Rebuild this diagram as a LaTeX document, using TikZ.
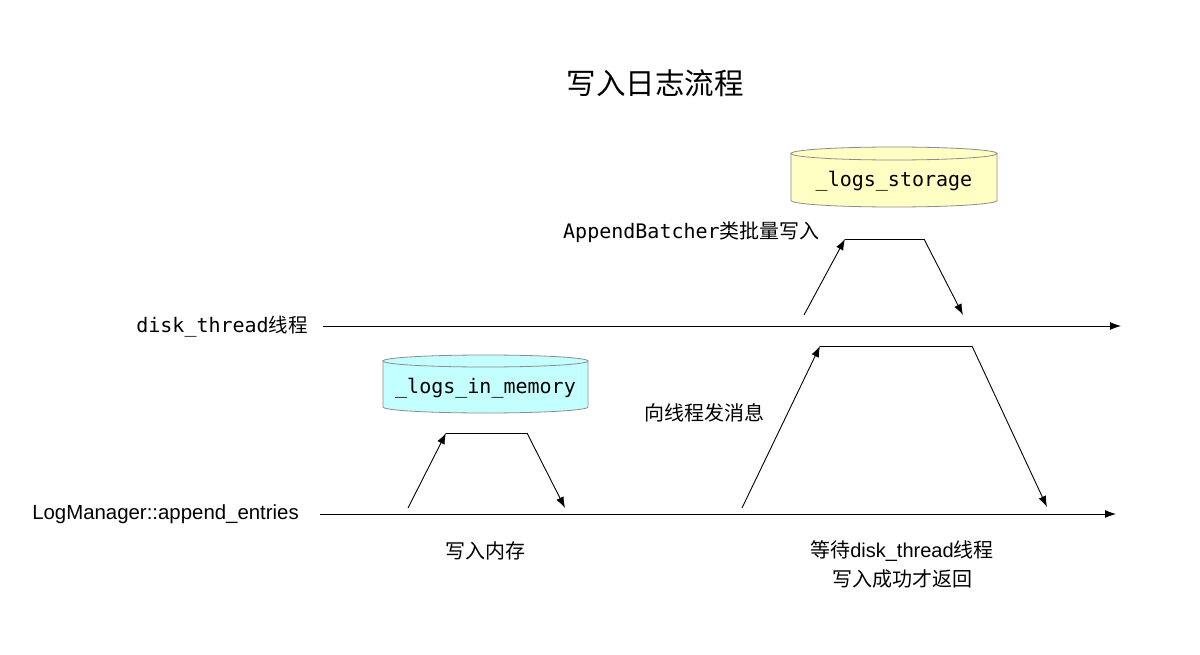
\documentclass[tikz,border=0pt]{standalone}
\usepackage{fontspec}
\setmainfont{Liberation Sans}
\setmonofont{DejaVu Sans Mono}
\newfontfamily\cjk{Noto Sans CJK SC}
\usetikzlibrary{arrows.meta}
\definecolor{memfill}{HTML}{C4FFFF}
\definecolor{storefill}{HTML}{FFFFC4}
\definecolor{cylline}{HTML}{8C8C8C}
\tikzset{
  flow/.style={line width=0.9pt, draw=black, -{Latex[length=11pt,width=8pt]}},
  plain/.style={line width=0.9pt, draw=black},
  lbl/.style={font=\fontsize{20}{24}\selectfont\cjk, inner sep=0pt, align=center},
  mono/.style={font=\fontsize{20}{24}\selectfont\ttfamily, inner sep=0pt},
}
\begin{document}
\begin{tikzpicture}[x=1pt,y=-1pt]
\useasboundingbox (0,0) rectangle (1200,655);
\fill[white] (0,0) rectangle (1200,655);

% title
\node[inner sep=0pt, font=\fontsize{29.5}{34}\selectfont\cjk] (title) at (655,83) {写入日志流程};

% cylinders
\fill[storefill, draw=cylline, line width=0.8pt] (791,153.5) -- (791,200.5) arc[start angle=180, end angle=360, x radius=103pt, y radius=6.5pt] -- (997,153.5) -- cycle;
\filldraw[fill=storefill, draw=cylline, line width=0.8pt] (894,153.5) ellipse[x radius=103pt, y radius=6.5pt];
\node[mono] (store) at (894,181) {\_logs\_storage};

\fill[memfill, draw=cylline, line width=0.8pt] (383,361) -- (383,407) arc[start angle=180, end angle=360, x radius=102.5pt, y radius=6pt] -- (588,361) -- cycle;
\filldraw[fill=memfill, draw=cylline, line width=0.8pt] (485.5,361) ellipse[x radius=102.5pt, y radius=6pt];
\node[mono] (mem) at (485.5,388) {\_logs\_in\_memory};

% timeline labels
\node[anchor=east, inner sep=0pt] (disklbl) at (308,327) {{\fontsize{20}{24}\selectfont\ttfamily disk\_thread}{\fontsize{19.5}{23}\selectfont\cjk 线程}};
\node[anchor=east, inner sep=0pt, font=\fontsize{20.4}{24}\selectfont] (lmlbl) at (299,514) {LogManager::append\_entries};

% timelines
\coordinate (d0) at (323,326);
\coordinate (d1) at (1121,326);
\coordinate (l0) at (320,514);
\coordinate (l1) at (1116,514);
\draw[flow] (d0) -- (d1);
\draw[flow] (l0) -- (l1);

% small trapezoid
\coordinate (a0) at (408,508);
\coordinate (a1) at (446,433);
\coordinate (a2) at (527,433);
\coordinate (a3) at (565,508);
\draw[flow] (a0) -- (a1);
\draw[plain] (a1) -- (a2);
\draw[flow] (a2) -- (a3);

% big trapezoid
\coordinate (b0) at (742,508);
\coordinate (b1) at (820,346);
\coordinate (b2) at (972,346);
\coordinate (b3) at (1047,507);
\draw[flow] (b0) -- (b1);
\draw[plain] (b1) -- (b2);
\draw[flow] (b2) -- (b3);

% top trapezoid
\coordinate (c0) at (804,315);
\coordinate (c1) at (845,239);
\coordinate (c2) at (924,239);
\coordinate (c3) at (963,315);
\draw[flow] (c0) -- (c1);
\draw[plain] (c1) -- (c2);
\draw[flow] (c2) -- (c3);

% labels
\node[inner sep=0pt, anchor=west] (batch) at (563,232) {{\fontsize{20}{24}\selectfont\ttfamily AppendBatcher}{\fontsize{20}{24}\selectfont\cjk 类批量写入}};
\node[lbl, anchor=west] (msg) at (644,413) {向线程发消息};
\node[lbl] (wmem) at (485.5,551) {写入内存};
\node[lbl] (wait1) at (902,551) {等待{\fontsize{20}{24}\selectfont\rmfamily disk\_thread}线程};
\node[lbl] (wait2) at (902,579) {写入成功才返回};
\end{tikzpicture}
\end{document}
